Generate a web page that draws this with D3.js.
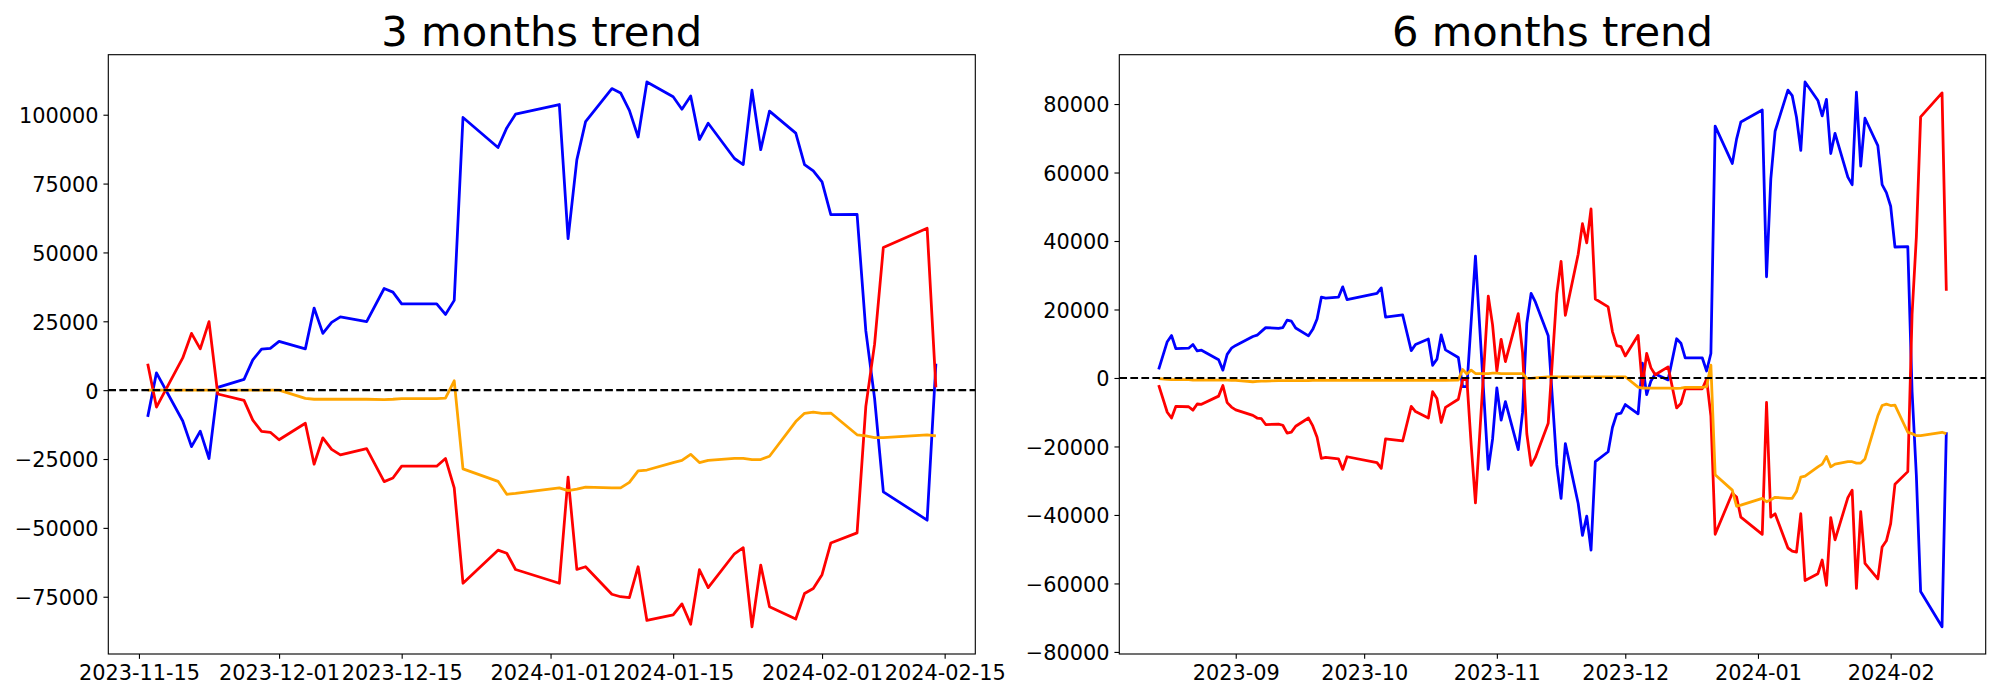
<!DOCTYPE html>
<html><head><meta charset="utf-8">
<script src="https://cdn.jsdelivr.net/npm/d3@7"></script>
<style>body{margin:0;background:#fff} text{font-family:"DejaVu Sans",sans-serif}</style>
</head><body><svg id="c" width="2000" height="700"></svg>
<script>
// ---------- data ----------
const leftTitle = "3 months trend";
const rightTitle = "6 months trend";

const leftDates = ["2023-11-16","2023-11-17","2023-11-20","2023-11-21","2023-11-22","2023-11-23","2023-11-24","2023-11-27","2023-11-28","2023-11-29","2023-11-30",
"2023-12-01","2023-12-04","2023-12-05","2023-12-06","2023-12-07","2023-12-08","2023-12-11","2023-12-13","2023-12-14","2023-12-15","2023-12-19","2023-12-20","2023-12-21","2023-12-22","2023-12-26","2023-12-27","2023-12-28",
"2024-01-02","2024-01-03","2024-01-04","2024-01-05","2024-01-08","2024-01-09","2024-01-10","2024-01-11","2024-01-12","2024-01-15","2024-01-16","2024-01-17","2024-01-18","2024-01-19","2024-01-22","2024-01-23","2024-01-24","2024-01-25","2024-01-26","2024-01-29","2024-01-30","2024-01-31",
"2024-02-01","2024-02-02","2024-02-05","2024-02-06","2024-02-07","2024-02-08","2024-02-13","2024-02-14"];

const leftBlue = [-9700,6300,-11200,-20500,-14900,-24800,1000,3900,11000,14900,15200,
17700,15000,29800,20600,24600,26600,24900,36900,35600,31300,31300,27500,32600,99000,88100,95200,100200,
103700,55000,83600,97500,109500,107900,101600,91900,111900,106500,102000,106800,91000,96900,84100,81900,108900,87300,101300,93300,81900,79600,
75600,63700,63800,21500,-3000,-36900,-47200,9600];

const leftRed = [9600,-6150,11700,20600,15000,24900,-1400,-3700,-10900,-15000,-15300,
-18000,-12000,-26900,-17300,-21500,-23500,-21200,-33200,-31900,-27600,-27600,-24800,-35500,-70100,-58100,-59200,-65100,
-70100,-31600,-65100,-64100,-74100,-75000,-75300,-64100,-83600,-81600,-77600,-85000,-65200,-71700,-59400,-57200,-85900,-63500,-78600,-83100,-73800,-72000,
-67000,-55500,-51800,-5900,16700,51800,58800,1000];

const leftOrange = [0,0,0,0,0,0,0,0,0,0,0,
0,-3000,-3300,-3300,-3300,-3300,-3300,-3400,-3300,-3100,-3100,-2900,3400,-28600,-33100,-37800,-37500,
-35500,-36500,-35900,-35200,-35500,-35500,-33500,-29300,-29000,-26300,-25500,-23300,-26300,-25500,-24800,-24800,-25200,-25200,-24000,-11400,-8400,-8000,
-8400,-8300,-16200,-16600,-17200,-17200,-16200,-16600];

const rightDates = ["2023-08-14","2023-08-16","2023-08-17","2023-08-18","2023-08-21","2023-08-22","2023-08-23","2023-08-24","2023-08-28","2023-08-29","2023-08-30","2023-08-31",
"2023-09-01","2023-09-05","2023-09-06","2023-09-07","2023-09-08","2023-09-11","2023-09-12","2023-09-13","2023-09-14","2023-09-15","2023-09-18","2023-09-19","2023-09-20","2023-09-21","2023-09-22","2023-09-25","2023-09-26","2023-09-27",
"2023-10-04","2023-10-05","2023-10-06","2023-10-10","2023-10-12","2023-10-13","2023-10-16","2023-10-17","2023-10-18","2023-10-19","2023-10-20","2023-10-23","2023-10-24","2023-10-25","2023-10-26","2023-10-27","2023-10-30","2023-10-31",
"2023-11-01","2023-11-02","2023-11-03","2023-11-06","2023-11-07","2023-11-08","2023-11-09","2023-11-10","2023-11-13","2023-11-15",
"2023-11-16","2023-11-17","2023-11-20","2023-11-21","2023-11-22","2023-11-23","2023-11-24","2023-11-27","2023-11-28","2023-11-29","2023-11-30",
"2023-12-01","2023-12-04","2023-12-05","2023-12-06","2023-12-07","2023-12-08","2023-12-11","2023-12-13","2023-12-14","2023-12-15","2023-12-19","2023-12-20","2023-12-21","2023-12-22","2023-12-26","2023-12-27","2023-12-28",
"2024-01-02","2024-01-03","2024-01-04","2024-01-05","2024-01-08","2024-01-09","2024-01-10","2024-01-11","2024-01-12","2024-01-15","2024-01-16","2024-01-17","2024-01-18","2024-01-19","2024-01-22","2024-01-23","2024-01-24","2024-01-25","2024-01-26","2024-01-29","2024-01-30","2024-01-31",
"2024-02-01","2024-02-02","2024-02-05","2024-02-06","2024-02-07","2024-02-08","2024-02-13","2024-02-14"];

const rightBlue = [2500,10600,12400,8600,8700,9800,7900,8100,5300,2300,6900,8700,
9500,12100,12500,13600,14700,14500,14700,16900,16600,14600,12300,14200,17200,23600,23300,23600,26600,22900,
24700,26300,17800,18400,8000,9800,11400,3700,5500,12600,8200,6000,-2500,-2500,16500,35600,-26700,-17800,
-2900,-12300,-6900,-20900,-10200,16000,24700,22200,12300,-25400,
-35150,-19150,-36650,-45950,-40350,-50250,-24450,-21550,-14450,-10550,-10250,
-7750,-10450,4350,-4850,-850,1150,-550,11450,10150,5850,5850,2050,7150,73550,62650,69750,74750,
78250,29550,58150,72050,84050,82450,76150,66450,86450,81050,76550,81350,65550,71450,58650,56450,83450,61850,75850,67850,56450,54150,
50150,38250,38350,-3950,-28450,-62350,-72650,-15850];

const rightRed = [-2100,-10000,-11700,-8300,-8400,-9400,-7600,-7700,-5300,-2200,-7200,-8500,
-9300,-10900,-11700,-11900,-13600,-13500,-13800,-16100,-15800,-14100,-11700,-14000,-17300,-23500,-23200,-23600,-26700,-23000,
-24700,-26400,-17800,-18400,-8300,-9800,-11700,-4000,-6000,-13000,-8600,-6200,-500,-500,-19500,-36500,23900,15500,
2000,11300,4800,18800,7500,-16300,-25500,-23200,-13200,24600,
34050,18300,36150,45050,39450,49350,23050,20750,13550,9450,9150,
6450,12450,-2450,7150,2950,950,3250,-8750,-7450,-3150,-3150,-350,-11050,-45650,-33650,-34750,-40650,
-45650,-7150,-40650,-39650,-49650,-50550,-50850,-39650,-59150,-57150,-53150,-60550,-40750,-47250,-34950,-32750,-61450,-39050,-54150,-58650,-49350,-47550,
-42550,-31050,-27350,18550,41150,76250,83250,25450];

const rightOrange = [-200,-400,-500,-500,-500,-600,-600,-600,-600,-600,-600,-700,
-700,-1100,-1000,-900,-900,-800,-800,-800,-800,-800,-800,-700,-700,-700,-700,-700,-700,-700,
-700,-700,-700,-700,-700,-700,-700,-700,-700,-700,-700,-600,2500,1150,2300,1300,1300,1400,
1400,1300,1300,1300,1300,-100,-100,0,300,350,
350,350,350,350,350,350,350,350,350,350,350,
350,-2650,-2950,-2950,-2950,-2950,-2950,-3050,-2950,-2750,-2750,-2550,3750,-28250,-32750,-37450,-37150,
-35150,-36150,-35550,-34850,-35150,-35150,-33150,-28950,-28650,-25950,-25150,-22950,-25950,-25150,-24450,-24450,-24850,-24850,-23650,-11050,-8050,-7650,
-8050,-7950,-15850,-16250,-16850,-16850,-15850,-16250];

const leftXTicks = ["2023-11-15","2023-12-01","2023-12-15","2024-01-01","2024-01-15","2024-02-01","2024-02-15"];
const rightXTicks = ["2023-09","2023-10","2023-11","2023-12","2024-01","2024-02"];
const leftYTicks = [-75000,-50000,-25000,0,25000,50000,75000,100000];
const rightYTicks = [-80000,-60000,-40000,-20000,0,20000,40000,60000,80000];

// ---------- drawing ----------
const svg = d3.select("#c");
svg.append("rect").attr("width",2000).attr("height",700).attr("fill","#fff");

const PT = 100/72;
const TICK = 3.5*PT, LW = 2*PT, DLW = 1.5*PT, FS = 15*PT, TFS = 30*PT;
const fmtMinus = v => (v < 0 ? "\u2212" + Math.abs(v) : String(v));

function panel(cfg){
  const {x0,x1,y0,y1} = cfg;
  const parse = d3.timeParse("%Y-%m-%d");
  const dates = cfg.dates.map(parse);
  const [dmin,dmax] = d3.extent(dates);
  const span = dmax - dmin;
  const x = d3.scaleTime().domain([new Date(+dmin - 0.05*span), new Date(+dmax + 0.05*span)]).range([x0,x1]);
  const all = cfg.blue.concat(cfg.red, cfg.orange);
  const [vmin,vmax] = d3.extent(all);
  const vs = vmax - vmin;
  const y = d3.scaleLinear().domain([vmin - 0.05*vs, vmax + 0.05*vs]).range([y1,y0]);

  const g = svg.append("g");
  const series = [[cfg.blue,"blue"],[cfg.red,"red"],[cfg.orange,"orange"]];
  for (const [vals,col] of series){
    const line = d3.line().x((d,i)=>x(dates[i])).y(d=>y(d));
    g.append("path").attr("d",line(vals)).attr("fill","none").attr("stroke",col)
      .attr("stroke-width",LW).attr("stroke-linejoin","round").attr("stroke-linecap","butt");
  }
  // zero line
  g.append("line").attr("x1",x0).attr("x2",x1).attr("y1",y(0)).attr("y2",y(0))
    .attr("stroke","black").attr("stroke-width",DLW).attr("stroke-dasharray",`${3.7*DLW},${1.6*DLW}`);

  // axes
  const tickParse = d3.timeParse(cfg.tickFmt);
  const xt = cfg.xTicks.map(tickParse);
  const xa = d3.axisBottom(x).tickValues(xt).tickFormat((d,i)=>cfg.xTicks[i])
    .tickSize(TICK).tickPadding(TICK).tickSizeOuter(0);
  const gx = svg.append("g").attr("transform",`translate(0,${y1})`).call(xa);
  gx.select(".domain").remove();
  gx.selectAll(".tick line").attr("stroke","black").attr("stroke-width",0.8*PT);
  gx.selectAll(".tick text").attr("font-size",FS).attr("font-family","DejaVu Sans").attr("fill","black").attr("dy","0.76em");

  const ya = d3.axisLeft(y).tickValues(cfg.yTicks).tickFormat(fmtMinus)
    .tickSize(TICK).tickPadding(TICK).tickSizeOuter(0);
  const gy = svg.append("g").attr("transform",`translate(${x0},0)`).call(ya);
  gy.select(".domain").remove();
  gy.selectAll(".tick line").attr("stroke","black").attr("stroke-width",0.8*PT);
  gy.selectAll(".tick text").attr("font-size",FS).attr("font-family","DejaVu Sans").attr("fill","black").attr("dy","0.38em");

  // frame
  svg.append("rect").attr("x",x0).attr("y",y0).attr("width",x1-x0).attr("height",y1-y0)
    .attr("fill","none").attr("stroke","black").attr("stroke-width",0.8*PT);

  // title
  svg.append("text").attr("x",(x0+x1)/2).attr("y",y0-6*PT).attr("text-anchor","middle")
    .attr("font-size",TFS).attr("font-family","DejaVu Sans").attr("fill","black").text(cfg.title);
}

panel({x0:108.3,x1:975.3,y0:54.7,y1:654,dates:leftDates,blue:leftBlue,red:leftRed,orange:leftOrange,
  xTicks:leftXTicks,tickFmt:"%Y-%m-%d",yTicks:leftYTicks,title:leftTitle});
panel({x0:1119.3,x1:1985.7,y0:54.7,y1:654,dates:rightDates,blue:rightBlue,red:rightRed,orange:rightOrange,
  xTicks:rightXTicks,tickFmt:"%Y-%m",yTicks:rightYTicks,title:rightTitle});
</script>
</body></html>
